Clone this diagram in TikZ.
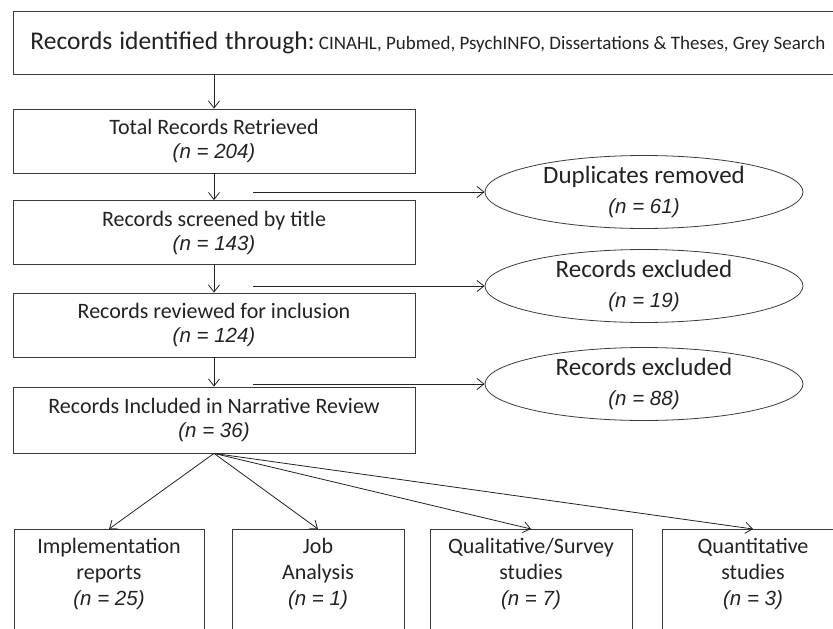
\documentclass[tikz,border=0pt]{standalone}
\usepackage{fontspec}
\setmainfont{Carlito}
\newfontfamily\nfont{Liberation Sans}
\newfontfamily\topfont[WordSpace=1.2]{Carlito}
\usetikzlibrary{arrows.meta,shapes.geometric}
\definecolor{ink}{HTML}{222222}
\definecolor{edge}{HTML}{3A3A3A}
\begin{document}
\begin{tikzpicture}[x=1pt,y=-1pt,
  line width=0.8pt, draw=edge, text=ink,
  arr/.style={draw=ink, -{Straight Barb[length=7pt,width=11pt]}},
  stagebox/.style={draw, minimum width=402pt, minimum height=64pt, align=center,
    inner sep=0pt, font=\fontsize{22}{24}\selectfont},
  outbox/.style={draw, ellipse, minimum width=318pt, minimum height=58pt, align=center,
    inner sep=0pt, font=\fontsize{25}{30}\selectfont},
  catbox/.style={draw, anchor=north, minimum height=0pt, text depth=62pt, inner ysep=9pt,
    align=center, font=\fontsize{22}{26}\selectfont}]
\useasboundingbox (0,0) rectangle (833,629);
\newcommand{\nval}[1]{{\nfont\itshape\fontsize{20.5}{24}\selectfont(n = #1)}}

\node (top) [draw, anchor=west, minimum height=63pt, inner xsep=17pt]
  at (13,43) {\makebox[830pt][l]{{\topfont\fontsize{25.5}{28}\selectfont Records identified through:}{\fontsize{19}{28}\selectfont\ CINAHL, Pubmed, PsychINFO, Dissertations \& Theses, Grey Search}}};

\node (b1) [stagebox] at (214,141) {Total Records Retrieved\\\nval{204}};
\node (b2) [stagebox] at (214,232.5) {Records screened by title\\\nval{143}};
\node (b3) [stagebox] at (214,325) {Records reviewed for inclusion\\\nval{124}};
\node (b4) [stagebox, minimum height=66pt] at (214,420) {Records Included in Narrative Review\\\nval{36}};

\draw[arr] (b1.north |- top.south) -- (b1.north);
\draw[arr] (b1) -- (b2);
\draw[arr] (b2) -- (b3);
\draw[arr] (b3) -- (b4);

\node (e1) [outbox] at (644,192) {Duplicates removed\\\nval{61}};
\node (e2) [outbox] at (644,286) {Records excluded\\\nval{19}};
\node (e3) [outbox] at (644,384) {Records excluded\\\nval{88}};

\coordinate (s1) at (253,192);
\coordinate (s2) at (253,286);
\coordinate (s3) at (253,384);
\draw[arr] (s1) -- (e1.west);
\draw[arr] (s2) -- (e2.west);
\draw[arr] (s3) -- (e3.west);

\node (c1) [catbox, minimum width=190pt] at (109,529) {Implementation\\reports\\\nval{25}};
\node (c2) [catbox, minimum width=172pt] at (318,529) {Job\\Analysis\\\nval{1}};
\node (c3) [catbox, minimum width=202pt] at (531,529) {Qualitative/Survey\\studies\\\nval{7}};
\node (c4) [catbox, minimum width=182pt] at (753,529) {Quantitative\\studies\\\nval{3}};

\draw[arr] (b4.south) -- (c1.north);
\draw[arr] (b4.south) -- (c2.north);
\draw[arr] (b4.south) -- (c3.north);
\draw[arr] (b4.south) -- (c4.north);
\end{tikzpicture}
\end{document}
